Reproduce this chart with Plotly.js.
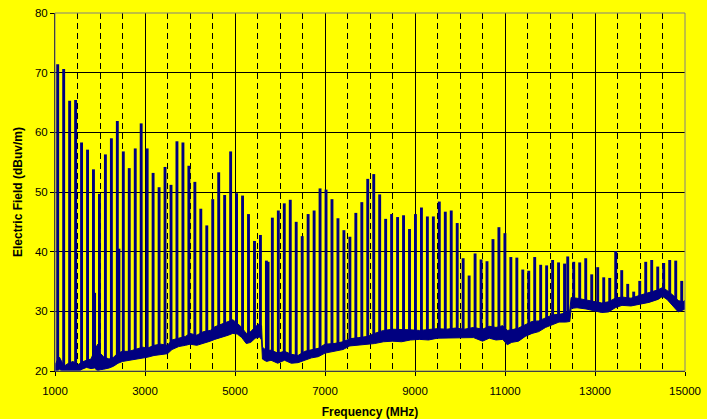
<!DOCTYPE html>
<html>
<head>
<meta charset="utf-8">
<script src="https://cdn.plot.ly/plotly-3.0.1.min.js"></script>
<style>
  html, body { margin: 0; padding: 0; background: #FFFF00; }
  #chart { width: 707px; height: 419px; }
</style>
</head>
<body>
<div id="chart"></div>
<script>
// Emission spikes (MHz) and their peak levels (dBuV/m)
const spikeFreq = [
  1060, 1193, 1325, 1458, 1590, 1723, 1855, 1988, 2120, 2253, 2385, 2518, 2650, 2783, 2915, 3048,
  3180, 3313, 3445, 3578, 3710, 3843, 3975, 4108, 4240, 4373, 4505, 4638, 4770, 4903, 5035, 5168,
  5300, 5433, 5565, 5698, 5830, 5963, 6095, 6228, 6360, 6493, 6625, 6758, 6890, 7023, 7155, 7288,
  7420, 7553, 7685, 7818, 7950, 8083, 8215, 8348, 8480, 8613, 8745, 8878, 9010, 9143, 9275, 9408,
  9540, 9673, 9805, 9938, 10070, 10203, 10335, 10468, 10600, 10733, 10865, 10998, 11130, 11263,
  11395, 11528, 11660, 11793, 11925, 12058, 12190, 12323,
  12394, 12527, 12660, 12794, 12927, 13060, 13194, 13327, 13460, 13594, 13727, 13860, 13994,
  14127, 14260, 14394, 14527, 14660, 14794, 14927
];
const spikeLevel = [
  71.4, 70.6, 65.3, 65.4, 58.3, 57.1, 53.8, 49.7, 56.3, 59.0, 61.9, 56.8, 54.0, 57.3, 61.5, 57.3,
  53.2, 50.8, 54.2, 51.2, 58.5, 58.3, 54.4, 51.7, 47.2, 44.4, 48.8, 53.3, 49.5, 56.8, 49.8, 49.4,
  46.3, 41.8, 42.8, 38.5, 45.7, 46.9, 48.1, 48.7, 45.0, 42.6, 46.3, 46.9, 50.6, 50.4, 48.8, 45.6,
  43.6, 42.5, 46.5, 48.3, 52.2, 53.0, 49.6, 45.5, 46.3, 45.8, 46.1, 43.8, 46.3, 47.4, 45.9, 45.9,
  48.4, 46.7, 46.9, 44.8, 38.9, 36.0, 39.7, 38.7, 38.4, 42.1, 44.1, 43.1, 39.1, 39.0,
  37.0, 36.8, 39.1, 37.8, 37.7, 38.6, 38.2, 38.0,
  39.2, 38.3, 38.2, 38.9, 36.2, 37.4, 35.7, 35.6, 40.1, 36.9, 34.6, 33.3, 35.1,
  38.3, 38.6, 37.5, 38.1, 38.6, 38.5, 35.1
];
// Secondary (non-harmonic) spikes
const extraFreq  = [1880, 2420, 5735];
const extraLevel = [33.1, 40.5, 38.3];

// Noise floor band: lower and upper edge of the thick trace
const floorFreq = [
  1000, 1050, 1100, 1150, 1200, 1300, 1400, 1500, 1600, 1700, 1800, 1880, 1950, 2000, 2080, 2200,
  2300, 2400, 2500, 2650, 2800, 2950, 3050, 3200, 3350, 3500, 3600, 3750, 3900, 4000, 4150, 4300,
  4450, 4550, 4700, 4850, 4950, 5050, 5150, 5250, 5350, 5450, 5550, 5590, 5610, 5700, 5800, 5950,
  6100, 6250, 6400, 6550, 6700, 6850, 7000, 7200, 7400, 7550, 7750, 7950, 8100, 8300, 8500, 8700,
  8900, 9100, 9300, 9500, 9700, 9900, 10100, 10300, 10500, 10650, 10800, 10950, 11050, 11150,
  11300, 11450, 11600, 11750, 11900, 12050, 12200, 12350, 12440, 12470, 12600, 12800, 13000,
  13150, 13300, 13450, 13600, 13800, 14000, 14200, 14400, 14500, 14600, 14750, 14850, 14950, 15000
];
const floorLow = [
  20.0, 20.0, 20.3, 20.0, 20.0, 19.8, 19.8, 19.8, 20.3, 20.6, 20.4, 20.5, 20.0, 20.2, 20.3, 20.5,
  20.8, 21.3, 21.6, 21.8, 22.0, 22.1, 22.3, 22.6, 22.7, 22.9, 23.6, 24.1, 24.3, 24.5, 24.3, 24.6,
  25.0, 25.3, 25.6, 26.0, 26.3, 26.2, 25.6, 24.6, 24.8, 25.5, 25.7, 25.2, 22.0, 21.6, 21.8, 21.3,
  21.8, 21.3, 21.4, 21.8, 22.2, 22.4, 23.0, 23.3, 23.6, 24.2, 24.3, 24.5, 24.6, 24.9, 25.0, 24.9,
  25.2, 25.3, 25.2, 25.5, 25.5, 25.6, 25.5, 25.6, 25.0, 25.5, 25.2, 25.3, 24.4, 24.8,
  25.0, 25.8, 26.3, 26.6, 27.3, 27.8, 28.2, 28.2, 28.3, 30.5, 30.6, 30.4, 30.1,
  29.8, 29.9, 30.6, 31.0, 30.9, 31.2, 31.5, 32.0, 32.5, 32.0, 30.8, 29.9, 30.2, 30.4
];
const floorHigh = [
  21.0, 21.8, 22.3, 21.6, 20.8, 21.3, 21.6, 21.0, 21.5, 21.8, 22.0, 23.5, 24.5, 23.0, 22.4, 22.0,
  22.3, 23.0, 23.3, 23.3, 23.6, 24.0, 23.8, 24.3, 24.5, 24.3, 25.2, 25.5, 25.8, 26.3, 26.0, 26.6,
  26.8, 27.4, 27.8, 28.3, 28.6, 28.0, 27.3, 26.3, 26.6, 27.4, 28.0, 27.5, 24.0, 23.4, 23.5, 23.0,
  23.3, 22.8, 22.6, 23.3, 23.6, 23.8, 24.5, 24.6, 24.9, 25.4, 25.6, 25.8, 26.3, 26.8, 27.0, 27.0,
  26.9, 26.8, 27.0, 27.1, 27.0, 27.2, 27.0, 27.3, 27.0, 27.5, 27.3, 27.6, 26.8, 26.9,
  27.2, 27.8, 28.3, 28.4, 28.9, 29.4, 29.5, 29.7, 30.2, 32.3, 32.2, 31.9, 31.7,
  31.4, 31.6, 32.2, 32.4, 32.2, 32.7, 33.1, 33.6, 34.0, 33.5, 32.6, 31.8, 31.6, 31.8
];

const NAVY = '#000080';

function floorMidAt(f) {
  let best = 0;
  for (let i = 1; i < floorFreq.length; i++) {
    if (Math.abs(floorFreq[i] - f) < Math.abs(floorFreq[best] - f)) best = i;
  }
  return (floorLow[best] + floorHigh[best]) / 2;
}

const sx = [], sy = [];
function addSpikes(fs, ls) {
  for (let i = 0; i < fs.length; i++) {
    sx.push(fs[i], fs[i], null);
    sy.push(floorMidAt(fs[i]), ls[i], null);
  }
}
addSpikes(spikeFreq, spikeLevel);
addSpikes(extraFreq, extraLevel);

const traces = [
  { x: floorFreq, y: floorLow, type: 'scatter', mode: 'lines',
    line: { color: NAVY, width: 1 }, hoverinfo: 'skip', showlegend: false },
  { x: floorFreq, y: floorHigh, type: 'scatter', mode: 'lines', fill: 'tonexty',
    fillcolor: NAVY, line: { color: NAVY, width: 1 }, hoverinfo: 'skip', showlegend: false },
  { x: sx, y: sy, type: 'scatter', mode: 'lines', connectgaps: false,
    line: { color: NAVY, width: 2.9 }, hoverinfo: 'skip', showlegend: false }
];

const tickFont = { family: 'Liberation Sans, Arial, sans-serif', size: 11.5, color: '#000' };
const titleFont = { family: 'Liberation Sans, Arial, sans-serif', size: 12, color: '#000' };

const layout = {
  width: 707, height: 419,
  paper_bgcolor: '#FFFF00', plot_bgcolor: '#FFFF00',
  margin: { l: 55, r: 22, t: 13, b: 48 },
  showlegend: false,
  xaxis: {
    range: [1000, 15000], tick0: 1000, dtick: 2000, tickformat: 'd',
    showgrid: true, gridcolor: '#000', gridwidth: 1,
    ticks: 'outside', ticklen: 4, tickcolor: '#000', tickwidth: 1,
    showline: true, linecolor: '#000', linewidth: 1, zeroline: false,
    tickfont: tickFont, ticklabelstandoff: 5,
    minor: { tick0: 1000, dtick: 500, showgrid: true, gridcolor: '#000', gridwidth: 1,
             griddash: '6px,4px', ticks: '' },
    title: { text: '<b>Frequency (MHz)</b>', font: titleFont, standoff: 11 },
    automargin: false
  },
  yaxis: {
    range: [20, 80], tick0: 20, dtick: 10,
    showgrid: true, gridcolor: '#000', gridwidth: 1,
    ticks: 'outside', ticklen: 4, tickcolor: '#000', tickwidth: 1,
    showline: true, linecolor: '#000', linewidth: 1, zeroline: false,
    tickfont: tickFont,
    title: { text: '<b>Electric Field (dBuv/m)</b>', font: titleFont, standoff: 9 },
    automargin: false
  },
  shapes: [
    { type: 'rect', xref: 'x domain', yref: 'y domain', x0: 0, x1: 1, y0: 0, y1: 1,
      line: { color: '#808080', width: 1 }, fillcolor: 'rgba(0,0,0,0)', layer: 'above' }
  ]
};

Plotly.newPlot('chart', traces, layout, { staticPlot: true, displayModeBar: false });
</script>
</body>
</html>
